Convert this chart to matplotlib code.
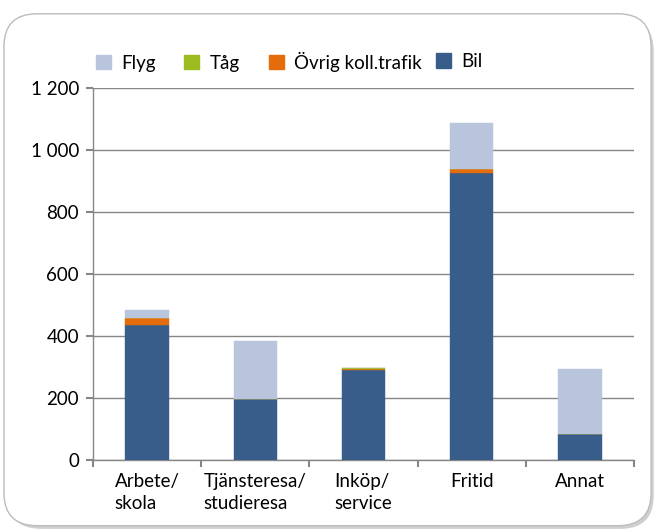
import numpy as np
import matplotlib
matplotlib.use("Agg")
import matplotlib.pyplot as plt
from matplotlib.patches import FancyBboxPatch, Patch
from matplotlib.ticker import FuncFormatter

plt.rcParams['font.family'] = ['Lato', 'DejaVu Sans']

categories = ["Arbete/\nskola", "Tjänsteresa/\nstudieresa", "Inköp/\nservice", "Fritid", "Annat"]
bil = [438, 197, 291, 927, 84]
ovrig = [20, 0, 4, 13, 0]
tag = [0, 1, 4, 0, 2]
flyg = [26, 186, 0, 148, 210]

series = [("Bil", bil, "#385d8a"),
          ("Övrig koll.trafik", ovrig, "#e46c0a"),
          ("Tåg", tag, "#9bbb1f"),
          ("Flyg", flyg, "#b9c5dc")]

fs = 13.5

fig = plt.figure(figsize=(6.59, 5.31), dpi=100)

# rounded frame with a soft shadow
shadow = FancyBboxPatch((0.012, 0.004), 0.98, 0.962, boxstyle="round,pad=0,rounding_size=0.05",
                        transform=fig.transFigure, facecolor="#d0d0d0", edgecolor="none",
                        mutation_aspect=659 / 531, zorder=-2)
frame = FancyBboxPatch((0.006, 0.01), 0.982, 0.964, boxstyle="round,pad=0,rounding_size=0.05",
                       transform=fig.transFigure, facecolor="white", edgecolor="#bcbcbc",
                       linewidth=1.0, mutation_aspect=659 / 531, zorder=-1)
fig.patches.extend([shadow, frame])

ax = fig.add_axes([0.1411, 0.1328, 0.821, 0.7015])
ax.set_facecolor("none")

x = np.arange(len(categories))
bottom = np.zeros(len(categories))
for name, vals, col in series:
    ax.bar(x, vals, width=0.4, bottom=bottom, color=col, edgecolor=col, linewidth=0.3, zorder=3)
    bottom += np.array(vals)

ax.set_xlim(-0.5, len(categories) - 0.5)
ax.set_ylim(0, 1200)
ax.set_yticks(np.arange(0, 1201, 200))
ax.yaxis.set_major_formatter(FuncFormatter(lambda v, p: f"{int(v):,}".replace(",", " ")))
ax.grid(axis="y", color="#868686", linewidth=1.0, zorder=0)

ax.set_xticks(np.arange(-0.5, len(categories)), minor=False)
ax.set_xticklabels([])
ax.set_xticks(x, minor=True)
ax.set_xticklabels(categories, minor=True, fontsize=fs, va="top", ha="center",
                   multialignment="left", linespacing=1.35)
ax.tick_params(axis="x", which="minor", length=0, pad=9)
ax.tick_params(axis="x", which="major", length=5, width=1.5, color="#868686")
ax.tick_params(axis="y", length=5, width=1.5, color="#868686", labelsize=fs, pad=5)

for s in ["top", "right"]:
    ax.spines[s].set_visible(False)
for s in ["left", "bottom"]:
    ax.spines[s].set_color("#868686")
    ax.spines[s].set_linewidth(1.0)

handles = [Patch(color="#b9c5dc", label="Flyg"),
           Patch(color="#9bbb1f", label="Tåg"),
           Patch(color="#e46c0a", label="Övrig koll.trafik")]
leg_kw = dict(frameon=False, fontsize=fs, handlelength=0.8, handleheight=0.8,
              handletextpad=0.55, borderpad=0, borderaxespad=0)
fig.legend(handles=handles, ncol=3, loc="center left", bbox_to_anchor=(0.145, 0.884),
           columnspacing=1.55, **leg_kw)
fig.legend(handles=[Patch(color="#385d8a", label="Bil")], loc="center left",
           bbox_to_anchor=(0.662, 0.884), **leg_kw)

fig.savefig("out.png", dpi=100)
